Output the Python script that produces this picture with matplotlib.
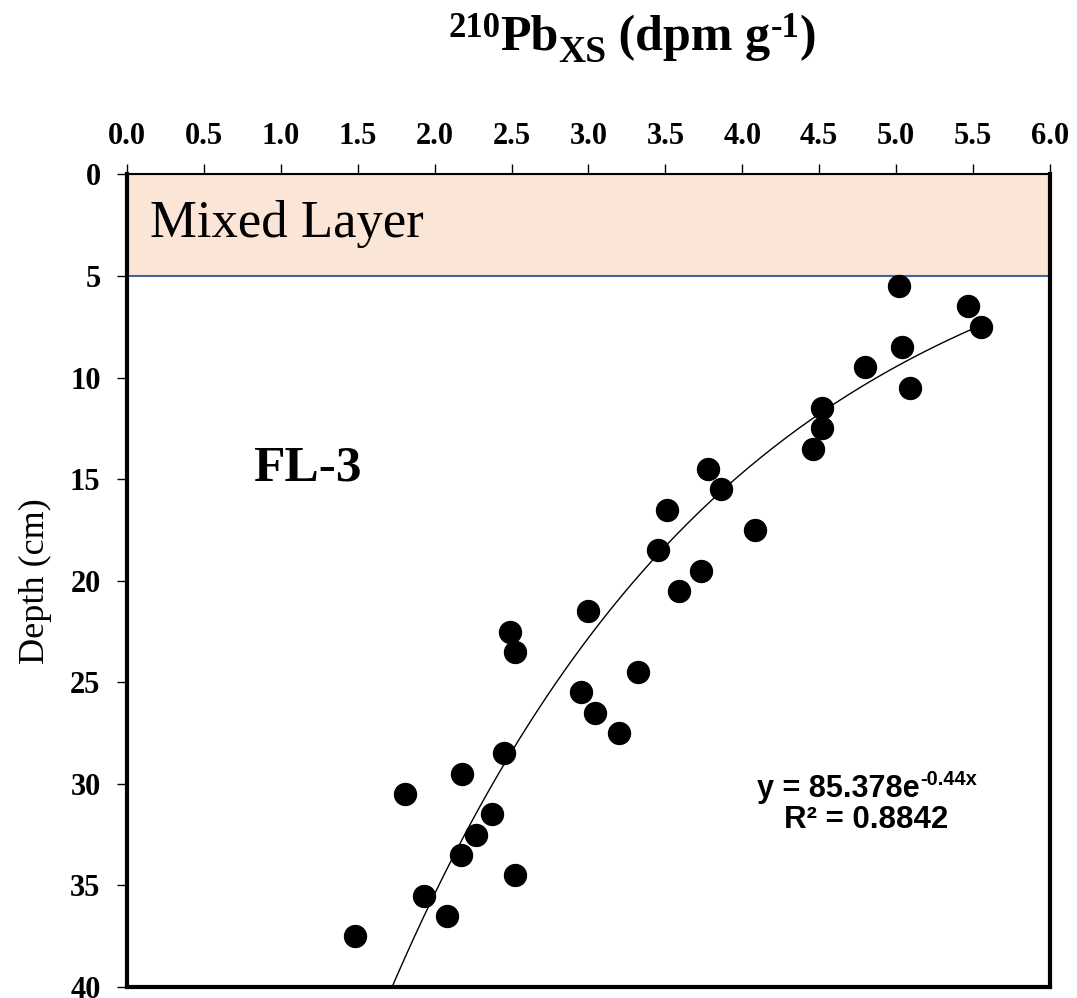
import numpy as np
import matplotlib
matplotlib.use("Agg")
import matplotlib.pyplot as plt
from matplotlib.patches import Rectangle
from matplotlib.transforms import IdentityTransform

plt.rcParams['font.family'] = ['Liberation Serif', 'DejaVu Serif']

# excess 210Pb activity (dpm/g) by core depth (cm)
depth = [5.5, 6.5, 7.5, 8.5, 9.5, 10.5, 11.5, 12.5, 13.5, 14.5, 15.5,
         16.5, 17.5, 18.5, 19.5, 20.5, 21.5, 22.5, 23.5, 24.5, 25.5,
         26.5, 27.5, 28.5, 29.5, 30.5, 31.5, 32.5, 33.5, 34.5, 35.5,
         36.5, 37.5]
pb_xs = [5.02, 5.47, 5.55, 5.04, 4.80, 5.09, 4.52, 4.52, 4.46, 3.78, 3.86,
         3.51, 4.08, 3.45, 3.73, 3.59, 3.00, 2.49, 2.52, 3.32, 2.95,
         3.04, 3.20, 2.45, 2.18, 1.81, 2.37, 2.27, 2.17, 2.52, 1.93,
         2.08, 1.48]

# exponential trendline y = a * exp(b * x)
fit_a = 85.378
fit_b = -0.44
r2 = 0.8842
mixed_depth = 5

W, H = 1077, 998
fig = plt.figure(figsize=(W / 100, H / 100), dpi=100)
ax = fig.add_axes([0.1179, 0.011, 0.857, 0.8142])


def rich_text(runs, xc, ybase, family, weight='bold'):
    """Lay out text runs (text, size, raise_px) side by side, centred at xc (pixels from left)
    on a baseline ybase (pixels from top)."""
    renderer = fig.canvas.get_renderer()
    items = []
    for s, size, dy in runs:
        t = fig.text(0, 0, s, fontsize=size, fontweight=weight, family=family,
                     ha='left', va='baseline', transform=IdentityTransform())
        items.append((t, t.get_window_extent(renderer).width, dy))
    x = xc - sum(w for _, w, _ in items) / 2
    for t, w, dy in items:
        t.set_position((x, H - ybase + dy))
        x += w


ax.set_xlim(0, 6)
ax.set_ylim(40, 0)

# mixed layer band
ax.add_patch(Rectangle((0, 0), 6, mixed_depth, facecolor='#fbe5d6',
                       edgecolor='#41659f', linewidth=1.5, zorder=1))
ax.text(0.15, 3.08, 'Mixed Layer', fontsize=38, ha='left', va='baseline', zorder=2)

xf = np.linspace(min(pb_xs), max(pb_xs), 200)
ax.plot(xf, fit_a * np.exp(fit_b * xf), color='black', linewidth=1.0, zorder=3)

ax.scatter(pb_xs, depth, s=250, color='black', zorder=4)

ax.text(0.82, 15.05, 'FL-3', fontsize=37, fontweight='bold', ha='left', va='baseline')

ax.set_xticks(np.arange(0, 6.01, 0.5))
ax.set_xticklabels(['%.1f' % v for v in np.arange(0, 6.01, 0.5)])
ax.set_yticks(range(0, 41, 5))
ax.xaxis.tick_top()
ax.tick_params(axis='x', top=True, bottom=False, direction='out', length=7,
               width=1, pad=10, labelsize=22)
ax.tick_params(axis='y', left=True, right=False, direction='out', length=7,
               width=1, pad=12, labelsize=22)
for lab in ax.get_xticklabels() + ax.get_yticklabels():
    lab.set_fontweight('bold')

for side in ['left', 'right', 'bottom']:
    ax.spines[side].set_linewidth(3)
ax.spines['top'].set_linewidth(1.5)

ax.set_ylabel('Depth (cm)', fontsize=26)
ax.yaxis.set_label_coords(-0.081, 0.5)

# axis title with super/subscripts
rich_text([('210', 25, 13), ('Pb', 36, 0), ('XS', 27, -12),
           (' (dpm g', 36, 0), ('-1', 25, 13), (')', 36, 0)],
          632, 50, 'Liberation Serif')

# trendline equation
rich_text([('y = 85.378e', 22, 0), ('-0.44x', 14.5, 12)], 867, 797, 'Liberation Sans')
rich_text([('R² = %.4f' % r2, 22.5, 0)], 866, 828, 'Liberation Sans')

fig.savefig('out.png', dpi=100)
